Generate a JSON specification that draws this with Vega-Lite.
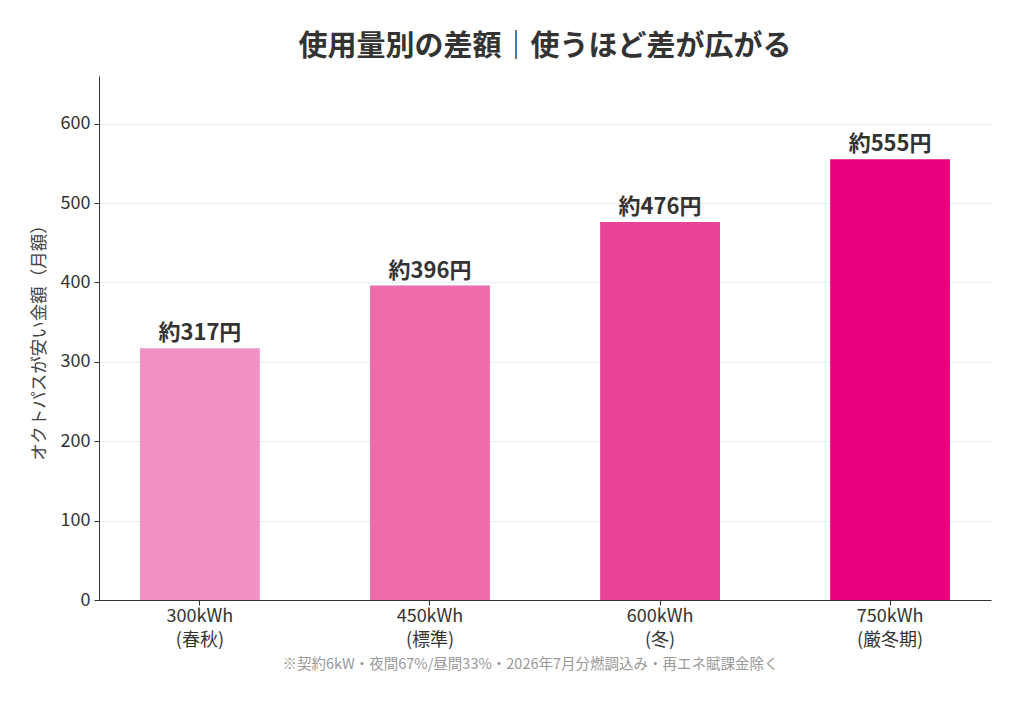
{
  "$schema": "https://vega.github.io/schema/vega-lite/v6.json",
  "width": 892,
  "height": 524,
  "autosize": {"type": "none"},
  "padding": {"left": 99, "top": 76, "right": 33, "bottom": 107},
  "background": "white",
  "config": {
    "font": "Noto Sans CJK JP",
    "view": {"stroke": null},
    "axis": {
      "domainColor": "#333333",
      "tickColor": "#333333",
      "labelColor": "#333333",
      "labelFont": "Noto Sans CJK JP",
      "titleFont": "Noto Sans CJK JP"
    }
  },
  "title": {
    "text": "使用量別の差額｜使うほど差が広がる",
    "fontSize": 29,
    "fontWeight": "bold",
    "color": "#333333",
    "anchor": "middle",
    "offset": 14
  },
  "data": {
    "values": [
      {"usage": "300kWh\n(春秋)", "diff": 317, "label": "約317円"},
      {"usage": "450kWh\n(標準)", "diff": 396, "label": "約396円"},
      {"usage": "600kWh\n(冬)", "diff": 476, "label": "約476円"},
      {"usage": "750kWh\n(厳冬期)", "diff": 555, "label": "約555円"}
    ]
  },
  "encoding": {
    "x": {
      "field": "usage",
      "type": "nominal",
      "sort": null,
      "scale": {"paddingInner": 0.479, "paddingOuter": 0.178},
      "axis": {
        "labelAngle": 0,
        "labelFontSize": 18,
        "labelLineHeight": 24,
        "labelPadding": 2,
        "tickSize": 5,
        "labelExpr": "split(datum.label, '\\n')",
        "title": "※契約6kW・夜間67%/昼間33%・2026年7月分燃調込み・再エネ賦課金除く",
        "titleFontSize": 14.5,
        "titleFontWeight": "normal",
        "titleColor": "#999999",
        "titlePadding": 8,
        "titleX": 431
      }
    },
    "y": {
      "field": "diff",
      "type": "quantitative",
      "scale": {"domain": [0, 660], "nice": false},
      "axis": {
        "values": [0, 100, 200, 300, 400, 500, 600],
        "title": "オクトパスが安い金額（月額）",
        "titleFontSize": 17.5,
        "titleFontWeight": "normal",
        "titleColor": "#444444",
        "titlePadding": 12,
        "labelFontSize": 18,
        "labelPadding": 4,
        "tickSize": 5,
        "grid": true,
        "gridColor": "#e8edf2",
        "gridWidth": 1
      }
    }
  },
  "layer": [
    {
      "mark": {"type": "bar"},
      "encoding": {
        "color": {
          "field": "usage",
          "type": "nominal",
          "sort": null,
          "scale": {"range": ["#F291C3", "#EE6BAC", "#E84396", "#E6007E"]},
          "legend": null
        }
      }
    },
    {
      "mark": {
        "type": "text",
        "baseline": "bottom",
        "dy": -3,
        "fontSize": 22,
        "fontWeight": "bold",
        "color": "#333333"
      },
      "encoding": {
        "text": {"field": "label"}
      }
    }
  ]
}
